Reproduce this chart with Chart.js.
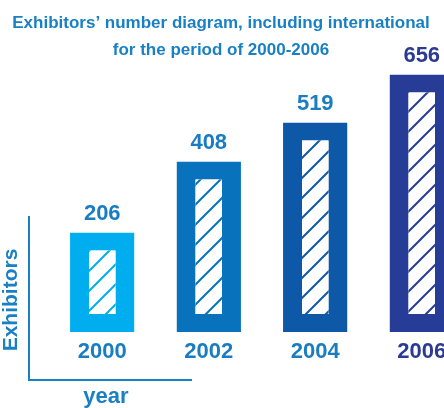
<!DOCTYPE html>
<html>
<head>
<meta charset="utf-8">
<script src="https://cdn.jsdelivr.net/npm/chart.js@4/dist/chart.umd.min.js"></script>
<style>
  html, body { margin: 0; padding: 0; background: #fff; overflow: hidden; }
  /* the last bar runs off the right edge in the original, so the canvas is wider than the window */
  #wrap { width: 475px; height: 408px; }
</style>
</head>
<body>
<div id="wrap"><canvas id="chart"></canvas></div>
<script>
const years = ['2000', '2002', '2004', '2006'];
const exhibitors = [206, 408, 519, 656];
const barColors = ['#00aeef', '#0872bc', '#0d59a7', '#273c96'];
const labelColors = ['#1a7dc2', '#1a7dc2', '#1a7dc2', '#2b3a92'];
const titleLines = ['Exhibitors\u2019 number diagram, including international', 'for the period of 2000-2006'];
const yMin = -77;
const yMax = 700;
const textBlue = '#1a80c4';
const fontFamily = '"Liberation Sans", Arial, sans-serif';

// white fill with diagonal stripes in the bar's colour
function hatch(color) {
  const c = document.createElement('canvas');
  c.width = 20; c.height = 20;
  const g = c.getContext('2d');
  g.fillStyle = '#fff';
  g.fillRect(0, 0, 20, 20);
  g.strokeStyle = color;
  g.lineWidth = 2;
  g.beginPath();
  g.moveTo(-2, 22); g.lineTo(22, -2);
  g.moveTo(-12, 12); g.lineTo(12, -12);
  g.moveTo(8, 32); g.lineTo(32, 8);
  g.stroke();
  return g.createPattern(c, 'repeat');
}

const decorations = {
  id: 'decorations',
  afterDraw(chart) {
    const ctx = chart.ctx;
    ctx.save();
    ctx.textAlign = 'center';
    ctx.textBaseline = 'middle';

    // title
    ctx.fillStyle = textBlue;
    ctx.font = 'bold 17px ' + fontFamily;
    ctx.fillText(titleLines[0], 221, 23);
    ctx.fillText(titleLines[1], 221, 50);

    // values above bars
    ctx.font = 'bold 22px ' + fontFamily;
    chart.getDatasetMeta(0).data.forEach((bar, i) => {
      ctx.fillStyle = labelColors[i];
      ctx.fillText(String(exhibitors[i]), bar.x, bar.y - 19);
    });

    // axis decoration lines
    ctx.strokeStyle = textBlue;
    ctx.lineWidth = 2;
    ctx.beginPath();
    ctx.moveTo(29, 216);
    ctx.lineTo(29, 380);
    ctx.lineTo(192, 380);
    ctx.stroke();

    ctx.fillStyle = textBlue;
    ctx.font = 'bold 22px ' + fontFamily;
    ctx.fillText('year', 106, 397);

    ctx.font = 'bold 21px ' + fontFamily;
    ctx.translate(11, 300);
    ctx.rotate(-Math.PI / 2);
    ctx.fillText('Exhibitors', 0, 0);
    ctx.restore();
  }
};

new Chart(document.getElementById('chart'), {
  type: 'bar',
  data: {
    labels: years,
    datasets: [{
      data: exhibitors,
      base: yMin,
      backgroundColor: barColors.map(hatch),
      borderColor: barColors,
      borderWidth: { left: 19, right: 19, top: 18, bottom: 18 },
      borderSkipped: false,
      categoryPercentage: 1,
      barPercentage: 0.605
    }]
  },
  options: {
    responsive: true,
    maintainAspectRatio: false,
    animation: false,
    devicePixelRatio: 1,
    layout: { padding: { left: 49, right: 0, top: 59, bottom: 45 } },
    plugins: {
      legend: { display: false },
      title: { display: false },
      tooltip: { enabled: false }
    },
    scales: {
      x: {
        grid: { display: false, drawTicks: false },
        border: { display: false },
        afterFit: (axis) => { axis.height = 31; },
        ticks: {
          padding: 7,
          maxRotation: 0,
          font: { family: fontFamily, size: 22, weight: 'bold' },
          color: (c) => labelColors[c.index]
        }
      },
      y: {
        display: false,
        min: yMin,
        max: yMax
      }
    }
  },
  plugins: [decorations]
});
</script>
</body>
</html>
